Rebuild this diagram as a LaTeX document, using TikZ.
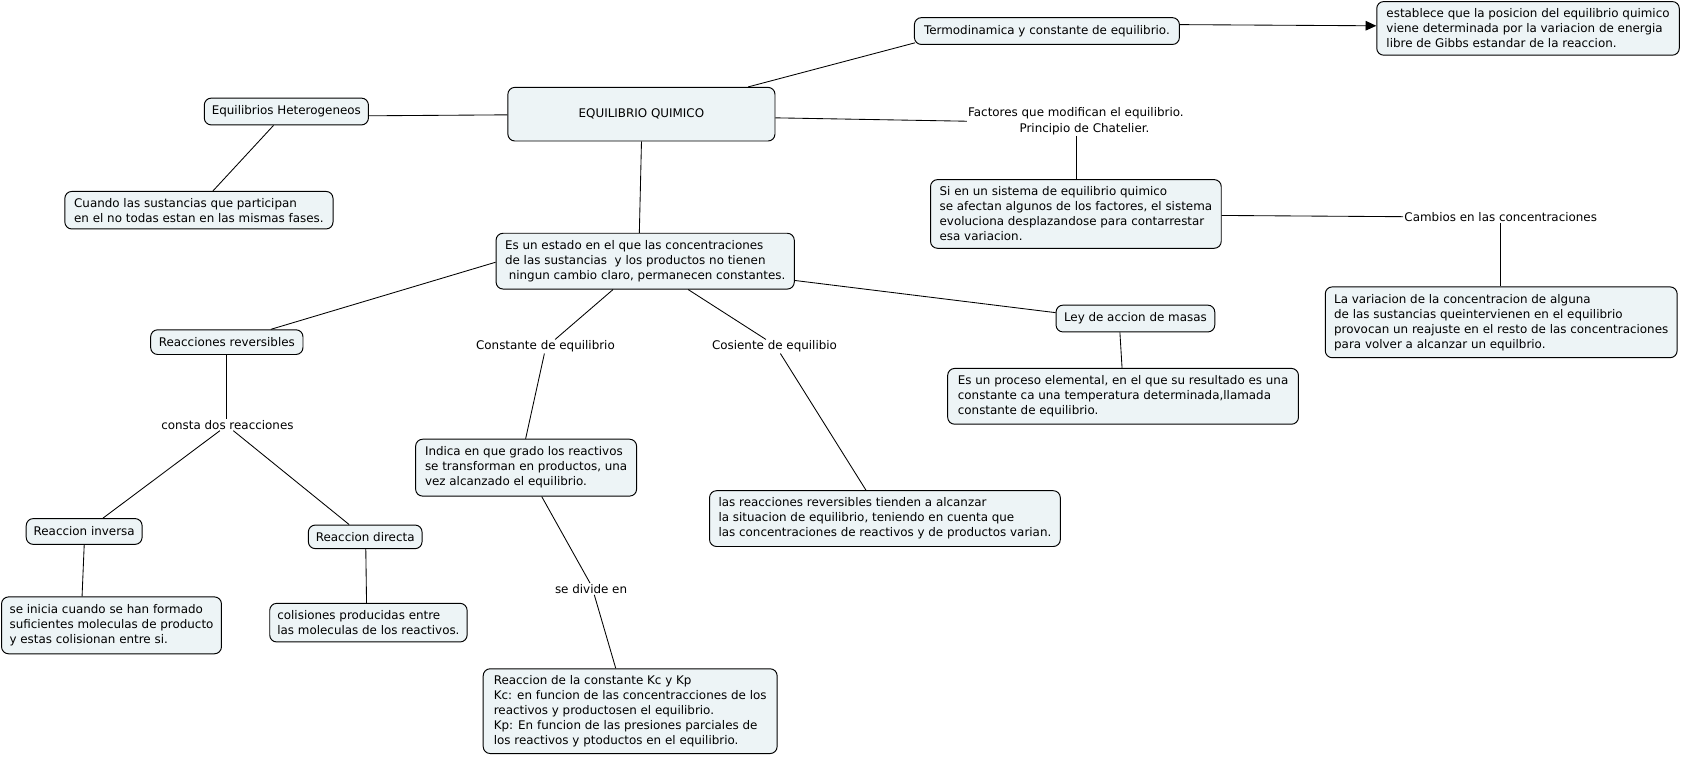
\documentclass[tikz,border=0pt]{standalone}
\usepackage{fontspec}
\setmainfont{DejaVu Sans}
\usetikzlibrary{arrows.meta,calc}
\definecolor{boxfill}{RGB}{237,244,246}
\newcommand\fsz{\fontsize{11.1pt}{14pt}\selectfont}
\begin{document}
\begin{tikzpicture}[x=1pt,y=-1pt,
  cbox/.style={draw=black, line width=0.9pt, fill=boxfill, rounded corners=6.5pt,
    inner sep=0pt, font=\fsz, anchor=north west, align=left},
  lbl/.style={inner sep=1pt, font=\fsz, align=center},
  conn/.style={draw=black, line width=0.8pt}]
\useasboundingbox (0,0) rectangle (1568,705);
% boxes
\node[cbox, minimum width=249pt, minimum height=50pt] (eq) at (473,81) {EQUILIBRIO QUIMICO};
\node[cbox, minimum width=153pt, minimum height=25pt] (het) at (190,91) {Equilibrios Heterogeneos};
\node[cbox, minimum width=250pt, minimum height=35pt] (cuando) at (60,178) {Cuando las sustancias que participan\\en el no todas estan en las mismas fases.};
\node[cbox, minimum width=247pt, minimum height=25pt] (termo) at (852,16) {Termodinamica y constante de equilibrio.};
\node[cbox, minimum width=282pt, minimum height=50pt] (estab) at (1283,1) {establece que la posicion del equilibrio quimico\\viene determinada por la variacion de energia\\libre de Gibbs estandar de la reaccion.};
\node[cbox, minimum width=271pt, minimum height=64pt] (si) at (867,167) {Si en un sistema de equilibrio quimico\\se afectan algunos de los factores, el sistema\\evoluciona desplazandose para contarrestar\\esa variacion.};
\node[cbox, minimum width=328pt, minimum height=66pt] (lavar) at (1235,267) {La variacion de la concentracion de alguna\\de las sustancias queintervienen en el equilibrio\\provocan un reajuste en el resto de las concentraciones\\para volver a alcanzar un equilbrio.};
\node[cbox, minimum width=278pt, minimum height=52pt] (estado) at (462,217) {Es un estado en el que las concentraciones\\de las sustancias\hspace{3.5pt} y los productos no tienen\\\hspace*{3.5pt}ningun cambio claro, permanecen constantes.};
\node[cbox, minimum width=142pt, minimum height=23pt] (rrev) at (140,307) {Reacciones reversibles};
\node[cbox, minimum width=108pt, minimum height=24pt] (rinv) at (24,483) {Reaccion inversa};
\node[cbox, minimum width=106pt, minimum height=22pt] (rdir) at (287,489) {Reaccion directa};
\node[cbox, minimum width=205pt, minimum height=53pt] (seini) at (1,556) {se inicia cuando se han formado\\suficientes moleculas de producto\\y estas colisionan entre si.};
\node[cbox, minimum width=184pt, minimum height=36pt] (colis) at (251,562) {colisiones producidas entre\\las moleculas de los reactivos.};
\node[cbox, minimum width=206pt, minimum height=53pt] (indica) at (387,409) {Indica en que grado los reactivos\\se transforman en productos, una\\vez alcanzado el equilibrio.};
\node[cbox, minimum width=274pt, minimum height=79pt] (kckp) at (450,623) {Reaccion de la constante Kc y Kp\\Kc: en funcion de las concentracciones de los\\reactivos y productosen el equilibrio.\\Kp: En funcion de las presiones parciales de\\los reactivos y ptoductos en el equilibrio.};
\node[cbox, minimum width=327pt, minimum height=52pt] (lasreac) at (661,457) {las reacciones reversibles tienden a alcanzar\\la situacion de equilibrio, teniendo en cuenta que\\las concentraciones de reactivos y de productos varian.};
\node[cbox, minimum width=148pt, minimum height=25pt] (ley) at (984,284) {Ley de accion de masas};
\node[cbox, minimum width=327pt, minimum height=52pt] (proceso) at (883,343) {Es un proceso elemental, en el que su resultado es una\\constante ca una temperatura determinada,llamada\\constante de equilibrio.};
% labels
\node[lbl] (fact) at (1003,113) {Factores que modifican el equilibrio.\\\hspace*{16pt}Principio de Chatelier.};
\node[lbl] (cambios) at (1399,202) {Cambios en las concentraciones};
\node[lbl] (consta) at (212,396) {consta dos reacciones};
\node[lbl] (constante) at (508.5,323) {Constante de equilibrio};
\node[lbl] (cosiente) at (722,323) {Cosiente de equilibio};
\node[lbl] (sedivide) at (551,549) {se divide en};
% connectors
\draw[conn] ($(eq.north west)+(224.5,0)$) -- ($(termo.south west)+(1,-2)$);
\draw[conn, -{Triangle[length=10pt,width=9pt]}] ($(termo.east)+(0,-6)$) -- ($(estab.west)+(0,-2.4)$);
\draw[conn] ($(eq.west)+(0,0.6)$) -- ($(het.east)+(0,4)$);
\draw[conn] ($(het.south west)+(65,0)$) -- ($(cuando.north west)+(138.5,0)$);
\draw[conn] ($(eq.east)+(0,3.4)$) -- (fact.west);
\draw[conn] (fact.south) -- (fact.south |- si.north);
\draw[conn] ($(si.east)+(0,1.4)$) -- (cambios.west);
\draw[conn] (cambios.south) -- (cambios.south |- lavar.north);
\draw[conn] ($(eq.south west)+(125,0)$) -- ($(estado.north west)+(134,0)$);
\draw[conn] ($(estado.west)+(0,1)$) -- ($(rrev.north west)+(112.5,0)$);
\draw[conn] ($(estado.south west)+(109.5,0)$) -- ($(constante.north)+(9,0)$);
\draw[conn] ($(constante.south)+(-1,0)$) -- ($(indica.north west)+(103,0)$);
\draw[conn] ($(estado.south west)+(179.5,0)$) -- ($(cosiente.north)+(-8,0)$);
\draw[conn] ($(cosiente.south)+(5.5,0)$) -- ($(lasreac.north west)+(146.3,0)$);
\draw[conn] ($(estado.east)+(0,18)$) -- ($(ley.west)+(0,-5.5)$);
\draw[conn] ($(ley.south west)+(60,0)$) -- ($(proceso.north west)+(163,0)$);
\draw[conn] ($(rrev.south west)+(71,0)$) -- ($(consta.north)+(-1,0)$);
\draw[conn] ($(consta.south)+(-7,0)$) -- ($(rinv.north west)+(72,0)$);
\draw[conn] ($(consta.south)+(5.5,0)$) -- ($(rdir.north west)+(38.5,0)$);
\draw[conn] ($(rinv.south west)+(54.5,0)$) -- ($(seini.north west)+(75.5,0)$);
\draw[conn] ($(rdir.south west)+(54,0)$) -- ($(colis.north west)+(90.7,0)$);
\draw[conn] ($(indica.south west)+(118,0)$) -- ($(sedivide.north)+(-1,0)$);
\draw[conn] ($(sedivide.south)+(3,0)$) -- ($(kckp.north west)+(124,0)$);
\end{tikzpicture}
\end{document}
